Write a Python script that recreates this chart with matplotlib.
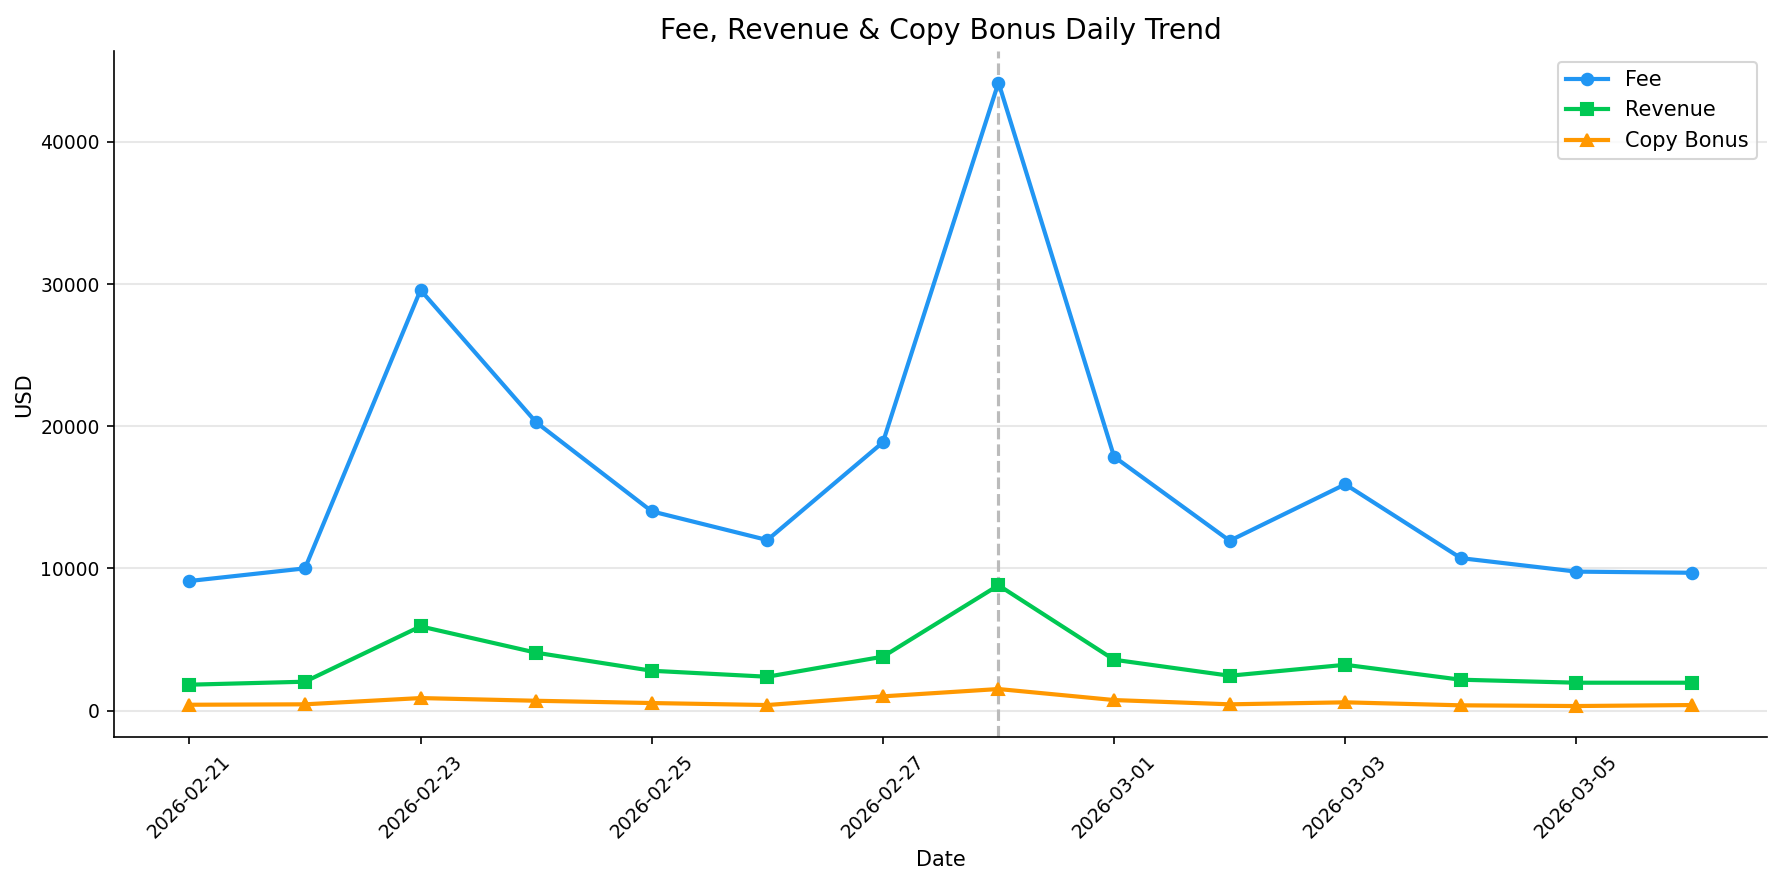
import pandas as pd
import numpy as np
import matplotlib
matplotlib.use("Agg")
import matplotlib.pyplot as plt
import matplotlib.dates as mdates

dates = pd.date_range("2026-02-21", "2026-03-06", freq="D")
fee = [9120, 10010, 29580, 20280, 14020, 12000, 18870, 44170,
       17860, 11950, 15920, 10730, 9780, 9700]
revenue = [1830, 2040, 5930, 4080, 2810, 2390, 3800, 8820,
           3585, 2460, 3230, 2180, 1970, 1970]
copy_bonus = [420, 450, 890, 700, 540, 400, 1010, 1525,
              750, 450, 590, 380, 330, 400]
peak_day = pd.Timestamp("2026-02-28")

plt.rcParams['font.family'] = ['DejaVu Sans']
fig, ax = plt.subplots(figsize=(11.9, 5.9), dpi=150)

ax.axvline(peak_day, color='#bbbbbb', linestyle='--', linewidth=1.5, zorder=1)
ax.plot(dates, fee, 'o-', color='#2196F3', linewidth=2, markersize=5.5, label='Fee', zorder=3)
ax.plot(dates, revenue, 's-', color='#00C853', linewidth=2, markersize=5.5, label='Revenue', zorder=3)
ax.plot(dates, copy_bonus, '^-', color='#FF9800', linewidth=2, markersize=5.5, label='Copy Bonus', zorder=3)

ax.set_title("Fee, Revenue & Copy Bonus Daily Trend", fontsize=13.5)
ax.set_xlabel("Date", fontsize=10)
ax.set_ylabel("USD", fontsize=10, labelpad=3)
ax.set_xticks(dates[::2])
ax.xaxis.set_major_formatter(mdates.DateFormatter("%Y-%m-%d"))
plt.setp(ax.get_xticklabels(), rotation=45)
ax.tick_params(labelsize=9)
ax.grid(axis='y', color='#e8e8e8', linewidth=1)
ax.set_axisbelow(True)
ax.spines['top'].set_visible(False)
ax.spines['right'].set_visible(False)
ax.legend(loc='upper right', fontsize=10)

fig.subplots_adjust(left=0.064, right=0.990, top=0.942, bottom=0.167)
fig.savefig("out.png", dpi=150)
